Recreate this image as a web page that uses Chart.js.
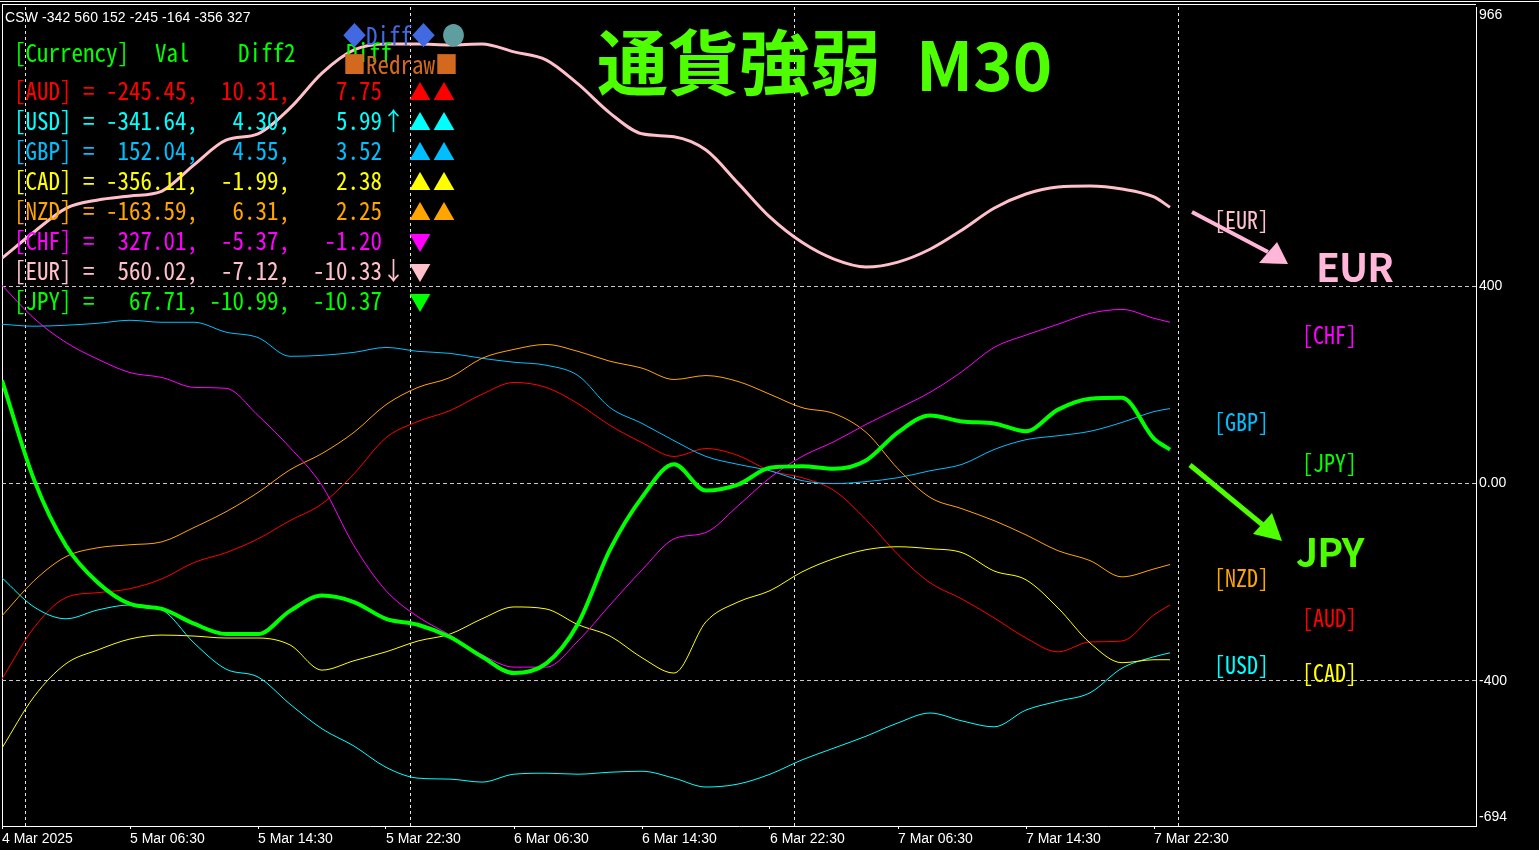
<!DOCTYPE html>
<html>
<head>
<meta charset="utf-8">
<script src="https://cdn.jsdelivr.net/npm/chart.js@4.4.1/dist/chart.umd.min.js"></script>
<style>
  html, body { margin: 0; padding: 0; background: #000; overflow: hidden; }
  #wrap { position: relative; width: 1539px; height: 850px; background: #000; }
  #csw { position: absolute; left: 0; top: 0; }
  #over, #arrows { position: absolute; left: 0; top: 0; width: 1539px; height: 850px; pointer-events: none; }
  .line1 { position: absolute; left: 0; top: 1px; width: 1539px; height: 1px; background: #fff; }
  .frame { position: absolute; left: 2px; top: 4px; width: 1474px; height: 822px; border-left: 1px solid #fff; border-top: 1px solid #fff; box-sizing: border-box; }
  .t { position: absolute; white-space: pre; line-height: 1; transform: translateY(-50%); }
  .mono { font-family: "Noto Sans Mono CJK JP", "Noto Sans CJK JP", "DejaVu Sans Mono", monospace; font-feature-settings: "hwid" 1; font-size: 23px; transform: translateY(-50%) scaleY(1.08); }
  .small { font-size: 22px; }
  .tri { font-family: "Noto Sans CJK JP", "DejaVu Sans", sans-serif; font-size: 22px; }
  .big { font-family: "Noto Sans CJK JP", "Noto Sans", sans-serif; font-weight: 700; font-size: 39px; letter-spacing: -1px; }
  .title { font-family: "Noto Sans CJK JP", sans-serif; font-weight: 700; font-size: 71px; }
  .m30 { font-family: "Noto Sans CJK JP", "Noto Sans", sans-serif; font-weight: 700; font-size: 67px; }
  .info { font-family: "Liberation Sans", Arial, sans-serif; font-size: 14px; letter-spacing: 0.1px; }
</style>
</head>
<body>
<div id="wrap">
  <div class="line1"></div>
  <div class="frame"></div>
  <canvas id="csw" width="1539" height="850"></canvas>
  <svg id="arrows" width="1539" height="850">
    <line x1="1192" y1="212" x2="1268" y2="252" stroke="#ffb6d9" stroke-width="4"/>
    <polygon points="1288,264 1259,263 1277,242" fill="#ffb6d9"/>
    <line x1="1190" y1="465" x2="1264" y2="526" stroke="#4dff00" stroke-width="5"/>
    <polygon points="1282,541 1253,534 1272,513" fill="#4dff00"/>
  </svg>
  <div id="over"></div>
</div>
<script>
// bar index (M30 bars) of each sample, every 4 bars
var bars = [0, 4, 8, 12, 16, 20, 24, 28, 32, 36, 40, 44, 48, 52, 56, 60, 64, 68, 72, 76,
            80, 84, 88, 92, 96, 100, 104, 108, 112, 116, 120, 124, 128, 132, 136, 140, 144, 146];

var timeTicks = [0, 16, 32, 48, 64, 80, 96, 112, 128, 144];
var timeLabels = ['4 Mar 2025', '5 Mar 06:30', '5 Mar 14:30', '5 Mar 22:30', '6 Mar 06:30',
                  '6 Mar 14:30', '6 Mar 22:30', '7 Mar 06:30', '7 Mar 14:30', '7 Mar 22:30'];
var dayTicks = [3, 51, 99, 147];
var yTicks = [966, 400, 0, -400, -694];

var AUD = [-396, -292, -231, -221, -213, -193, -160, -140, -112, -75, -41, 20, 93, 126, 148, 181, 205, 195, 162, 118,
           83, 55, 71, 57, 26, 12, -14, -73, -144, -201, -234, -272, -313, -341, -321, -319, -266, -246];
var USD = [-191, -250, -274, -256, -246, -256, -323, -376, -392, -447, -497, -532, -575, -597, -599, -605, -589, -587, -589, -585,
           -583, -597, -615, -609, -589, -560, -536, -512, -485, -465, -481, -493, -459, -441, -424, -374, -351, -343];
var GBP = [323, 319, 321, 325, 331, 327, 327, 307, 296, 258, 260, 266, 276, 268, 264, 254, 246, 240, 219, 154,
           122, 87, 55, 39, 26, 6, 0, 4, 12, 26, 39, 69, 89, 97, 106, 124, 146, 152];
var CAD = [-536, -432, -365, -337, -315, -307, -309, -313, -313, -327, -378, -359, -341, -319, -305, -274, -250, -254, -286, -309,
           -353, -384, -280, -240, -217, -179, -152, -134, -128, -132, -140, -177, -195, -252, -323, -363, -357, -357];
var NZD = [-268, -197, -148, -130, -124, -118, -89, -57, -18, 28, 61, 104, 160, 195, 215, 254, 272, 282, 268, 248,
           234, 211, 219, 207, 181, 154, 142, 104, 30, -28, -51, -75, -104, -136, -156, -189, -173, -164];
var CHF = [402, 335, 286, 252, 225, 215, 195, 193, 138, 73, -4, -126, -217, -270, -307, -347, -372, -372, -319, -246,
           -175, -112, -99, -45, 12, 55, 85, 120, 152, 185, 227, 276, 301, 323, 345, 353, 335, 327];
var EUR = [457, 510, 558, 575, 583, 593, 646, 696, 709, 761, 832, 879, 891, 891, 889, 891, 875, 859, 810, 751,
           709, 703, 676, 609, 540, 489, 455, 439, 449, 475, 514, 558, 587, 601, 603, 597, 581, 560];
var JPY = [209, 8, -126, -201, -244, -254, -284, -305, -305, -258, -227, -240, -274, -286, -311, -351, -384, -365, -284, -134,
           -28, 39, -14, -2, 32, 35, 30, 47, 104, 138, 126, 122, 106, 150, 172, 174, 91, 69];

// table in the upper left
var currencies = ['AUD', 'USD', 'GBP', 'CAD', 'NZD', 'CHF', 'EUR', 'JPY'];
var lastVal = [-245.45, -341.64, 152.04, -356.11, -163.59, 327.01, 560.02, 67.71];
var diff2 = [10.31, 4.30, 4.55, -1.99, 6.31, -5.37, -7.12, -10.99];
var diff1 = [7.75, 5.99, 3.52, 2.38, 2.25, -1.20, -10.33, -10.37];
var arrows = ['', '↑', '', '', '', '', '↓', ''];
var marks = ['▲▲', '▲▲', '▲▲', '▲▲', '▲▲', '▼', '▼', '▼'];

var colors = {
    AUD: '#ff0000', USD: '#00ffff', GBP: '#00bfff', CAD: '#ffff00',
    NZD: '#ffa500', CHF: '#ff00ff', EUR: '#ffc0cb', JPY: '#00ff00'
};
var series = { AUD: AUD, USD: USD, GBP: GBP, CAD: CAD, NZD: NZD, CHF: CHF, EUR: EUR, JPY: JPY };
var widths = { EUR: 3, JPY: 4 };

// first dataset is drawn on top
var drawOrder = ['JPY', 'EUR', 'CHF', 'NZD', 'CAD', 'GBP', 'USD', 'AUD'];

var datasets = drawOrder.map(function (c) {
    return {
        label: c,
        data: bars.map(function (b, i) { return { x: b, y: series[c][i] }; }),
        borderColor: colors[c],
        borderWidth: widths[c] || 1,
        pointRadius: 0,
        fill: false,
        cubicInterpolationMode: 'monotone'
    };
});

var axisFont = { family: 'Liberation Sans', size: 14 };

new Chart(document.getElementById('csw'), {
    type: 'line',
    data: { datasets: datasets },
    options: {
        responsive: false,
        animation: false,
        layout: { padding: { left: 2, top: 7, right: 0, bottom: 0 } },
        plugins: { legend: { display: false }, tooltip: { enabled: false } },
        scales: {
            x: {
                type: 'linear', position: 'bottom', min: 0, max: 184.25,
                afterBuildTicks: function (s) { s.ticks = timeTicks.map(function (v) { return { value: v }; }); },
                afterFit: function (s) { s.height = 24; s.paddingLeft = 0; s.paddingRight = 0; },
                ticks: {
                    autoSkip: false, maxRotation: 0, align: 'start', padding: 2, color: '#fff', font: axisFont,
                    callback: function (v, i) { return timeLabels[i]; }
                },
                grid: { drawOnChartArea: false, drawTicks: true, tickLength: 3, tickColor: '#fff', color: '#fff' },
                border: { display: true, color: '#fff' }
            },
            xDay: {
                type: 'linear', position: 'bottom', min: 0, max: 184.25,
                afterBuildTicks: function (s) { s.ticks = dayTicks.map(function (v) { return { value: v }; }); },
                afterFit: function (s) { s.height = 0; s.paddingLeft = 0; s.paddingRight = 0; },
                ticks: { display: false },
                grid: { color: '#e6e6e6', drawTicks: false },
                border: { display: false, dash: [3, 3] }
            },
            y: {
                position: 'right', min: -694, max: 966,
                afterBuildTicks: function (s) { s.ticks = yTicks.map(function (v) { return { value: v }; }); },
                afterFit: function (s) { s.width = 63; s.paddingTop = 0; s.paddingBottom = 0; },
                ticks: {
                    autoSkip: false, padding: 3, color: '#fff', font: axisFont,
                    callback: function (v) {
                        if (v === 966) return ['', '966'];
                        if (v === -694) return ['-694', ''];
                        return v === 0 ? '0.00' : String(v);
                    }
                },
                grid: {
                    drawTicks: false,
                    color: function (c) { return (c.tick && Math.abs(c.tick.value) <= 400) ? '#c8c8c8' : 'transparent'; }
                },
                border: { display: true, color: '#fff', dash: [4, 3] }
            }
        }
    }
});

// texts over the chart
var over = document.getElementById('over');
function put(text, x, cy, color, cls) {
    var d = document.createElement('div');
    d.className = 't ' + cls;
    d.textContent = text;
    d.style.left = x + 'px';
    d.style.top = cy + 'px';
    d.style.color = color;
    over.appendChild(d);
    return d;
}
function pad(v, n) { return v.toFixed(2).padStart(n, ' '); }

put('CSW -342 560 152 -245 -164 -356 327', 5, 17, '#fff', 'info');

put('[Currency]', 14, 52, '#00ff00', 'mono');
put('Val', 155, 52, '#00ff00', 'mono');
put('Diff2', 238, 52, '#00ff00', 'mono');
put('Diff', 346, 52, '#00ff00', 'mono');
put('◆Diff◆', 343, 35, '#4169e1', 'mono');
put('●', 442, 35, '#5f9ea0', 'mono');
put('■Redraw■', 343, 64, '#d2691e', 'mono');

currencies.forEach(function (c, i) {
    var cy = 90 + i * 30;
    var row = '[' + c + '] = ' + pad(lastVal[i], 7) + ',' + pad(diff2[i], 7) + ',' + pad(diff1[i], 8) + arrows[i];
    put(row, 14, cy, colors[c], 'mono');
    put(marks[i].charAt(0), 409, cy, colors[c], 'tri');
    if (marks[i].length > 1) put(marks[i].charAt(1), 433, cy, colors[c], 'tri');
});

// labels at the right end
put('[EUR]', 1214, 218, colors.EUR, 'mono small');
put('[CHF]', 1302, 333, colors.CHF, 'mono small');
put('[GBP]', 1214, 420, colors.GBP, 'mono small');
put('[JPY]', 1302, 461, colors.JPY, 'mono small');
put('[NZD]', 1214, 576, colors.NZD, 'mono small');
put('[AUD]', 1302, 616, colors.AUD, 'mono small');
put('[USD]', 1214, 663, colors.USD, 'mono small');
put('[CAD]', 1302, 671, colors.CAD, 'mono small');

put('EUR', 1316, 265, '#ffb6d9', 'big');
put('JPY', 1296, 550, '#4dff00', 'big');

put('通貨強弱', 597, 58, '#4dff00', 'title');
put('M30', 916, 61, '#4dff00', 'm30');
</script>
</body>
</html>
